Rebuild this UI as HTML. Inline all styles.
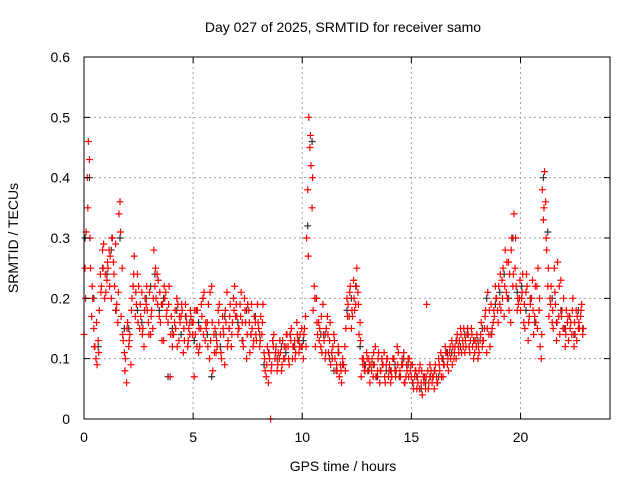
<!DOCTYPE html>
<html><head><meta charset="utf-8"><style>
body{margin:0;background:#fff;}
svg{display:block;font-family:"Liberation Sans",sans-serif;}
</style></head><body>
<svg id="chart" width="640" height="480" viewBox="0 0 640 480">
<rect width="640" height="480" fill="#fff"/>
<text x="343" y="32" font-size="14" text-anchor="middle">Day 027 of 2025, SRMTID for receiver samo</text>
<text transform="translate(18,238) rotate(-90)" font-size="14" text-anchor="middle">SRMTID / TECUs</text>
<text x="343" y="471" font-size="14" text-anchor="middle">GPS time / hours</text>
<g id="grid"></g><g id="marks"></g><g id="axes"></g>
</svg>
<script>
const xTicks=[0,5,10,15,20];
const yTicks=[0,0.1,0.2,0.3,0.4,0.5,0.6];
const yTickLabels=["0","0.1","0.2","0.3","0.4","0.5","0.6"];
const redA=[14,31,46,25,20,12,9,18,22,29, 21,25,27,30,22,19,34,17,13,10, 16,14,20,27,19,22,17,15,20,18, 21,18,28,20,23,16,19,20,18,22, 17,14,15,19,16,18,13,16,15,17, 16,14,18,12,17,21,15,19,13,8, 15,12,19,10,14,16,13,19,16,22, 17,15,21,12,16,19,11,15,17,13, 15,17,19,8,12,10,9,14,12,11, 11,13,10,14,9,15,12,11,13,14, 12,15,30,50,42,18,12,14,15,11, 13,15,11,9,12,10,8,7,6,9, 15,19,22,17,18,25,14,7,10,9, 8,6,10,9,7,11,8,9,6,10, 9,7,10,8,11,7,9,6,8,10, 7,5,8,6,9,4,7,19,6,8, 7,9,6,8,10,9,11,8,10,12, 12,14,13,11,15,12,14,13,12,11, 14,11,16,13,18,21,12,15,17,20, 22,18,25,28,20,24,30,34,22,19, 18,24,15,22,17,20,14,16,25,12, 38,41,28,17,22,15,19,26,14,18, 15,18,13,16,20,14,17,15,19];
const redB=[25,40,43,17,15,10,13,24,28,20, 23,28,20,26,29,16,36,25,11,6, 12,9,22,17,24,15,21,12,19,16, 14,15,22,24,17,19,13,21,16,7, 12,16,20,13,17,11,19,12,14,16, 7,18,11,15,20,13,16,10,22,14, 11,18,14,17,9,21,15,12,20,17, 14,19,16,20,10,18,14,12,16,19, 12,14,11,7,6,0,13,10,8,10, 8,10,12,12,14,10,13,16,11,12, 10,17,38,45,35,22,20,16,12,19, 10,17,13,11,14,8,12,9,10,12, 20,17,15,23,19,21,16,10,8,11, 10,9,7,12,8,6,10,11,9,7, 6,10,8,12,7,9,11,7,10,8, 9,7,5,8,6,7,5,8,9,6, 5,7,10,11,7,12,9,11,13,10, 10,12,15,13,11,14,12,15,10,13, 10,13,12,15,11,14,19,16,22,18, 19,23,17,21,26,16,22,25,18,20, 20,16,21,13,19,23,17,22,18,10, 33,36,22,20,16,25,13,17,23,15, 12,16,17,14,12,18,15,17,14];
const redC=[20,35,30,22,12,16,11,21,25,24, 26,22,30,24,18,21,31,14,8,15, 13,18,24,21,16,19,14,18,22,14, 17,20,25,19,21,13,22,17,19,14, 14,18,12,17,19,15,17,13,18,14, 18,12,15,19,14,16,12,21,16,11, 13,16,11,15,18,12,17,14,18,19, 15,17,13,18,14,16,19,13,14,16, 13,16,10,9,11,8,12,11,9,13, 9,12,14,10,13,12,10,14,12,15, 14,12,27,47,40,20,16,13,17,14, 11,14,16,10,13,9,11,8,9,8, 17,21,18,20,22,19,13,9,8,10, 9,8,11,7,10,8,9,7,10,8, 8,10,7,9,8,10,6,9,7,9, 6,8,7,5,8,6,7,5,7,7, 8,6,9,7,9,11,10,12,9,11, 13,11,14,12,13,15,11,14,13,12, 12,14,13,17,15,18,14,18,20,16, 24,20,22,26,18,28,24,30,20,23, 21,19,24,16,20,18,22,15,20,14, 35,30,25,19,18,21,16,22,17,20, 14,17,15,18,16,13,16,18,15];
const blackC=[30,40,20,12,25, 24,28,18,30,15, 15,22,18,16,20, 22,24,18,20,7, 15,18,14,17,16, 13,16,20,14,7, 14,12,17,15,20, 16,13,18,14,17, 14,9,11,13,10, 12,11,14,12,13, 13,32,46,20,14, 14,10,8,11,9, 18,20,22,12,9, 8,9,7,10,8, 8,9,7,10,9, 6,7,5,6,7, 8,7,10,11,11, 13,12,14,12,13, 13,15,20,14,19, 21,24,20,30,21, 22,18,20,16,18, 40,31,20,16,18, 15,17,14,18,15];
const NS="http://www.w3.org/2000/svg";
const L=84,R=610,T=57,B=419;
function xs(h){return L+h*(R-L)/24.1;}
function ys(v){return B-v*(B-T)/0.6;}
function mk(tag,attrs,parent){const e=document.createElementNS(NS,tag);for(const k in attrs)e.setAttribute(k,attrs[k]);parent.appendChild(e);return e;}
const grid=document.getElementById('grid'),marks=document.getElementById('marks'),axes=document.getElementById('axes');
xTicks.forEach(t=>{const x=xs(t);
 if(t>0){const g=mk('line',{x1:x,x2:x,y1:T,y2:B,stroke:'#a0a0a0','stroke-dasharray':'2,3','stroke-width':1},grid);
 }
 const tk=mk('path',{d:`M${x},${B}v-6M${x},${T}v6`,stroke:'#000'},axes);
 
 const tx=mk('text',{x:x,y:B+23,'font-size':14,'text-anchor':'middle'},axes);tx.textContent=t;
 });
yTicks.forEach((t,i)=>{const y=ys(t);
 if(t>0&&t<0.6){const g=mk('line',{x1:L,x2:R,y1:y,y2:y,stroke:'#a0a0a0','stroke-dasharray':'2,3','stroke-width':1},grid);
 }
 const tk=mk('path',{d:`M${L},${y}h6M${R},${y}h-6`,stroke:'#000'},axes);
 
 const tx=mk('text',{x:L-14,y:y+5,'font-size':14,'text-anchor':'end'},axes);tx.textContent=yTickLabels[i];
 });
const fr=mk('rect',{x:L,y:T,width:R-L,height:B-T,fill:'none',stroke:'#000','stroke-width':1},axes);

function plus(h,v,color,name){const x=xs(h),y=ys(v);
 const p=mk('path',{d:`M${x-3.5},${y}h7M${x},${y-3.5}v7`,stroke:color,'stroke-width':1.2},marks);
 }
blackC.forEach((v,i)=>plus(i*0.2+0.05,v/100,'#333','black-point'));
redA.forEach((v,i)=>plus(i*0.1,v/100,'#f00','red-point'));
redB.forEach((v,i)=>plus(i*0.1+0.05,v/100,'#f00','red-point'));
redC.forEach((v,i)=>plus(i*0.1+0.075,v/100,'#f00','red-point'));
</script>
</body></html>
